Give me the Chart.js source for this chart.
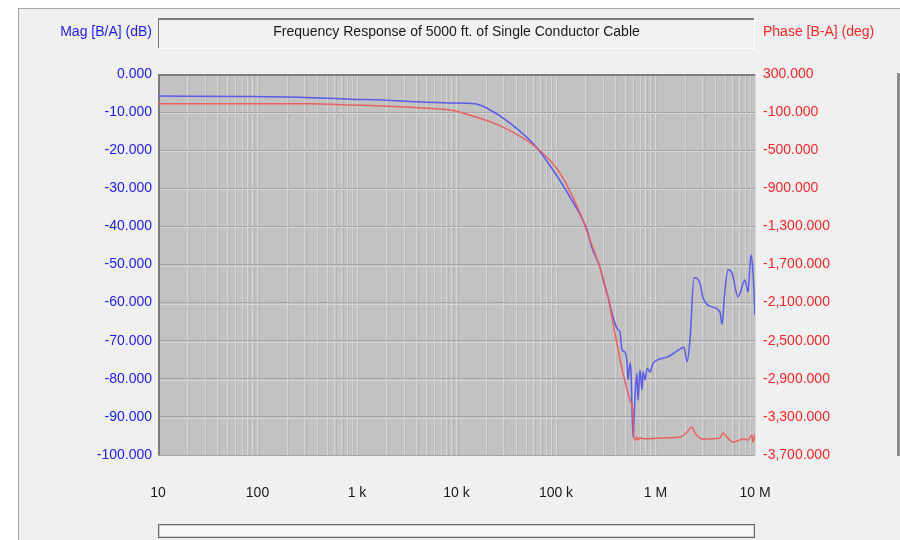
<!DOCTYPE html>
<html><head><meta charset="utf-8">
<script src="https://cdn.jsdelivr.net/npm/chart.js@4.4.1/dist/chart.umd.min.js"></script>
<style>html,body{margin:0;padding:0;background:#fff;}canvas{display:block;}</style>
</head><body>
<canvas id="c" width="900" height="540"></canvas>
<script>
const chartTitle = 'Frequency Response of 5000 ft. of Single Conductor Cable';
const magAxisTitle = 'Mag [B/A] (dB)';
const phaseAxisTitle = 'Phase [B-A] (deg)';

const freqTicks = [10, 100, 1000, 10000, 100000, 1000000, 10000000];
const freqLabels = ['10', '100', '1 k', '10 k', '100 k', '1 M', '10 M'];
const magTicks = [0, -10, -20, -30, -40, -50, -60, -70, -80, -90, -100];
const phaseTicks = [300, -100, -500, -900, -1300, -1700, -2100, -2500, -2900, -3300, -3700];

const magFreq = [10, 78, 267, 851, 1824, 4009, 8610, 15350, 20280, 34500, 64450, 93300, 138300, 205000, 230200, 276800,
  303500, 333200, 374000, 420000, 439500, 460500, 493500, 517400, 529500, 554400, 567500, 594000, 622000, 651600, 666800, 698400,
  731400, 748300, 783600, 821800, 880600, 944000, 1306000, 1763000, 1934000, 2074000, 2222000, 2440000, 2800000, 3000000, 3784000, 4447000,
  4660000, 4990000, 5355000, 5870000, 6745000, 7930000, 8500000, 9120000, 9550000, 10000000];
const magDb = [-5.8, -5.9, -6.1, -6.6, -6.8, -7.3, -7.6, -7.8, -9.0, -12.9, -19.4, -25.2, -32.3, -40.9, -45.7, -50.7,
  -54.9, -58.5, -63.8, -67.2, -67.7, -72.4, -73.0, -75.9, -80.3, -75.9, -78.2, -95.3, -84.8, -78.5, -85.6, -77.7,
  -82.9, -78.2, -80.3, -77.2, -78.2, -75.9, -74.3, -72.2, -71.7, -75.5, -69.8, -53.5, -54.9, -58.7, -61.2, -62.5,
  -65.7, -56.7, -51.4, -52.2, -58.5, -54.1, -57.2, -47.5, -52.2, -63.3];

const phaseFreq = [10, 337, 851, 2704, 4296, 8610, 11620, 29320, 64450, 109700, 174200, 219800, 276800, 333200, 374000, 471000,
  554400, 594000, 608000, 630000, 651600, 672000, 698400, 800000, 1306000, 1763000, 2074000, 2328000, 2494000, 3000000, 4447000, 4770000,
  5233000, 6010000, 7570000, 8500000, 9330000, 9550000, 10000000];
const phaseDeg = [-12, -12, -25, -43, -54, -78, -110, -257, -477, -740, -1160, -1443, -1737, -2042, -2315, -2840,
  -3123, -3260, -3512, -3543, -3512, -3540, -3522, -3530, -3520, -3512, -3459, -3407, -3470, -3533, -3522, -3470,
  -3512, -3564, -3533, -3543, -3491, -3564, -3480];

const FONT = '"Liberation Sans", Arial, sans-serif';
const BLUE_TXT = '#1c1cff';
const RED_TXT = '#ff2626';

const gridFreq = [];
for (let i = 0; i < freqTicks.length - 1; i++) {
  for (let m = 1; m <= 9; m++) gridFreq.push(freqTicks[i] * m);
}
gridFreq.push(freqTicks[freqTicks.length - 1]);

const framePlugin = {
  id: 'frame',
  beforeDraw(chart) {
    const { ctx, chartArea: a } = chart;
    ctx.save();
    ctx.fillStyle = '#ffffff';
    ctx.fillRect(0, 0, chart.width, chart.height);
    ctx.fillStyle = '#f0f0f0';
    ctx.fillRect(18, 8, chart.width - 18, chart.height - 8);
    ctx.fillStyle = '#a8a8a8';
    ctx.fillRect(18, 8, chart.width - 18, 1);
    ctx.fillRect(18, 8, 1, chart.height - 8);
    ctx.fillStyle = '#8c8c8c';
    ctx.fillRect(897, 73, 3, 383);
    ctx.fillStyle = '#c2c2c2';
    ctx.fillRect(a.left, a.top, a.right - a.left, a.bottom - a.top);
    const bx = a.left, bw = a.right - a.left;
    ctx.fillStyle = '#f2f2f2';
    ctx.fillRect(bx, 18, bw, 31);
    ctx.fillStyle = '#7a7a7a';
    ctx.fillRect(bx, 18, bw, 2);
    ctx.fillRect(bx, 18, 1, 31);
    ctx.fillStyle = '#ffffff';
    ctx.fillRect(bx, 48, bw, 1);
    ctx.fillRect(bx + bw - 1, 18, 1, 31);
    ctx.fillStyle = '#6a6a6a';
    ctx.fillRect(bx, 524, bw, 14);
    ctx.fillStyle = '#d0d0d0';
    ctx.fillRect(bx + 1, 525, bw - 2, 12);
    ctx.fillStyle = '#f8f8f8';
    ctx.fillRect(bx + 2, 526, bw - 4, 10);
    ctx.restore();
  },
  beforeDatasetsDraw(chart) {
    const { ctx, chartArea: a } = chart;
    const xs = chart.scales.x, ys = chart.scales.y;
    ctx.save();
    ctx.lineWidth = 1;
    ctx.strokeStyle = '#b6b6b6';
    ctx.beginPath();
    gridFreq.forEach(f => {
      const px = Math.round(xs.getPixelForValue(f)) + 1.5;
      if (px < a.right) { ctx.moveTo(px, a.top); ctx.lineTo(px, a.bottom); }
    });
    ctx.stroke();
    ctx.strokeStyle = '#d6d6d6';
    ctx.beginPath();
    magTicks.forEach(v => {
      const py = Math.round(ys.getPixelForValue(v)) + 1.5;
      if (py < a.bottom) { ctx.moveTo(a.left, py); ctx.lineTo(a.right, py); }
    });
    ctx.stroke();
    ctx.fillStyle = '#7c7c7c';
    ctx.fillRect(a.left, a.top, a.right - a.left, 2);
    ctx.fillRect(a.left, a.top, 2, a.bottom - a.top);
    ctx.restore();
  },
  afterDraw(chart) {
    const { ctx, chartArea: a } = chart;
    ctx.save();
    ctx.font = '14px ' + FONT;
    ctx.textBaseline = 'middle';
    ctx.fillStyle = '#1a1a1a';
    ctx.textAlign = 'center';
    ctx.fillText(chartTitle, (a.left + a.right) / 2, 32);
    ctx.fillStyle = BLUE_TXT;
    ctx.textAlign = 'right';
    ctx.fillText(magAxisTitle, a.left - 6, 32);
    ctx.fillStyle = RED_TXT;
    ctx.textAlign = 'left';
    ctx.fillText(phaseAxisTitle, a.right + 8, 32);
    ctx.restore();
  }
};

const magData = magFreq.map((f, i) => ({ x: f, y: magDb[i] }));
const phaseData = phaseFreq.map((f, i) => ({ x: f, y: phaseDeg[i] }));

new Chart(document.getElementById('c'), {
  type: 'line',
  data: {
    datasets: [
      { label: 'Mag', data: magData, yAxisID: 'y', borderColor: 'rgb(90,90,235)', borderWidth: 1.5,
        pointRadius: 0, cubicInterpolationMode: 'monotone', order: 2 },
      { label: 'Phase', data: phaseData, yAxisID: 'y1', borderColor: 'rgb(232,96,96)', borderWidth: 1.5,
        pointRadius: 0, cubicInterpolationMode: 'monotone', order: 1 }
    ]
  },
  options: {
    responsive: false,
    animation: false,
    devicePixelRatio: 1,
    layout: { padding: { top: 74, left: 0, right: 0, bottom: 0 } },
    plugins: { legend: { display: false }, tooltip: { enabled: false }, title: { display: false } },
    scales: {
      x: {
        type: 'logarithmic', min: 10, max: 10000000,
        afterBuildTicks: s => { s.ticks = gridFreq.map(v => ({ value: v, major: freqTicks.includes(v) })); },
        afterFit: s => { s.height = 85; },
        grid: { color: '#d6d6d6', lineWidth: 1, drawTicks: false },
        border: { display: false },
        ticks: {
          autoSkip: false, maxRotation: 0, padding: 30, color: '#1a1a1a', font: { family: FONT, size: 14 },
          callback: v => { const i = freqTicks.indexOf(v); return i >= 0 ? freqLabels[i] : ''; }
        }
      },
      y: {
        type: 'linear', position: 'left', min: -100, max: 0,
        afterBuildTicks: s => { s.ticks = magTicks.map(v => ({ value: v })); },
        afterFit: s => { s.width = 158; },
        grid: { color: '#a4a4a4', lineWidth: 1, drawTicks: false },
        border: { display: false },
        ticks: { padding: 6, color: BLUE_TXT, font: { family: FONT, size: 14 },
          callback: v => (Math.abs(v) < 1e-9 ? 0 : v).toFixed(3) }
      },
      y1: {
        type: 'linear', position: 'right', min: -3700, max: 300,
        afterBuildTicks: s => { s.ticks = phaseTicks.map(v => ({ value: v })); },
        afterFit: s => { s.width = 145; },
        grid: { drawOnChartArea: false, drawTicks: false },
        border: { display: false },
        ticks: { padding: 8, color: RED_TXT, font: { family: FONT, size: 14 },
          callback: v => v.toLocaleString('en-US', { minimumFractionDigits: 3, maximumFractionDigits: 3 }) }
      }
    }
  },
  plugins: [framePlugin]
});
</script>
</body></html>
